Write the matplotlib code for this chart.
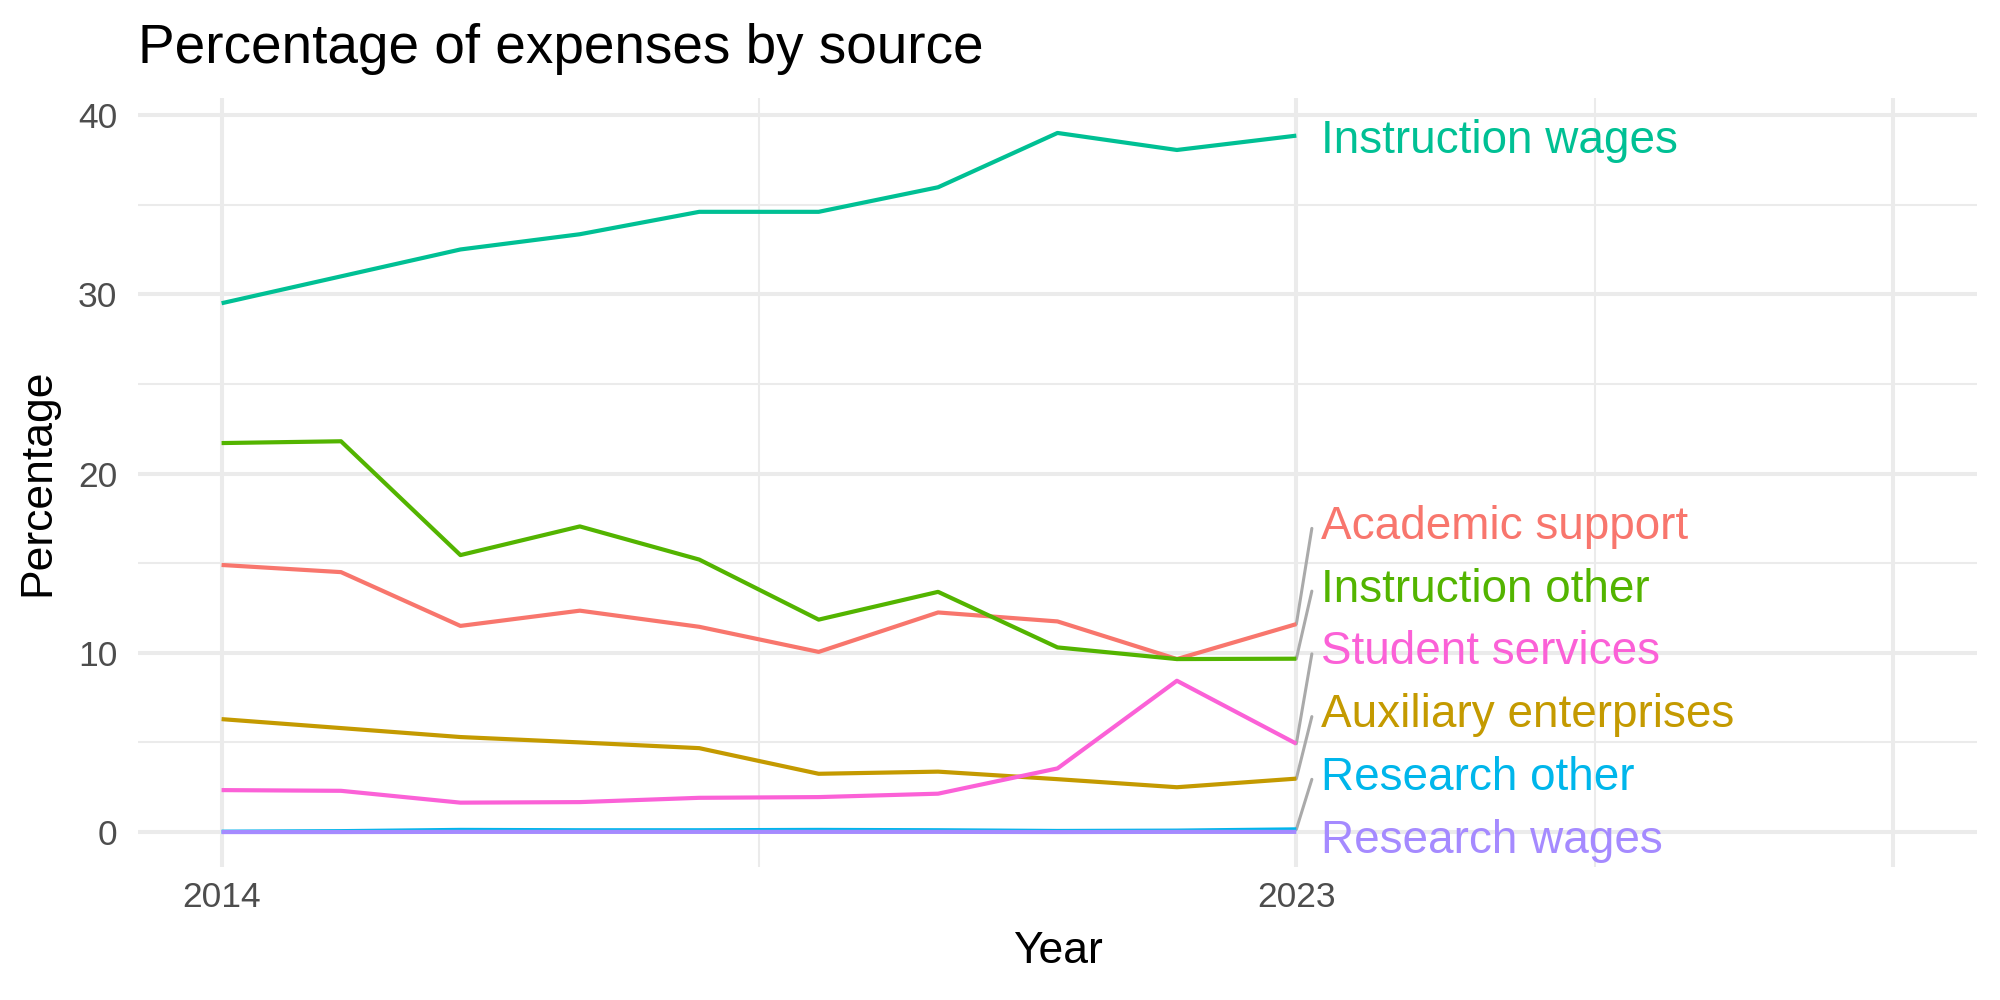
import matplotlib
matplotlib.use("Agg")
import matplotlib.pyplot as plt
from matplotlib.transforms import offset_copy
import numpy as np

plt.rcParams['font.family'] = ['Liberation Sans', 'DejaVu Sans']

# ---------------- data ----------------
years = [2014, 2015, 2016, 2017, 2018, 2019, 2020, 2021, 2022, 2023]

academic_support = [14.9, 14.5, 11.5, 12.35, 11.45, 10.05, 12.25, 11.75, 9.65, 11.6]
auxiliary_enterprises = [6.3, 5.8, 5.3, 5.0, 4.68, 3.25, 3.37, 2.95, 2.5, 2.98]
instruction_other = [21.7, 21.8, 15.45, 17.05, 15.2, 11.85, 13.4, 10.3, 9.65, 9.67]
instruction_wages = [29.5, 31.0, 32.5, 33.35, 34.6, 34.6, 35.97, 39.0, 38.05, 38.85]
research_other = [0.02, 0.05, 0.12, 0.1, 0.1, 0.12, 0.1, 0.06, 0.08, 0.15]
research_wages = [0.0, 0.0, 0.01, 0.01, 0.01, 0.01, 0.01, 0.0, 0.01, 0.01]
student_services = [2.34, 2.3, 1.64, 1.67, 1.91, 1.95, 2.14, 3.55, 8.44, 4.93]

series_names = ["Academic support", "Auxiliary enterprises", "Instruction other",
                "Instruction wages", "Research other", "Research wages",
                "Student services"]
series_values = [academic_support, auxiliary_enterprises, instruction_other,
                 instruction_wages, research_other, research_wages,
                 student_services]

title = "Percentage of expenses by source"
x_label = "Year"
y_label = "Percentage"
x_ticks = [2014, 2023, 2028]
x_tick_labels = ["2014", "2023", ""]
y_ticks = [0, 10, 20, 30, 40]

# ggplot2 hue palette for 7 groups
colors = ["#F8766D", "#C49A00", "#53B400", "#00C094", "#00B6EB", "#A58AFF", "#FB61D7"]

# ---------------- figure ----------------
fig = plt.figure(figsize=(20, 10), dpi=100)
ax = fig.add_axes([0.069, 0.133, 0.9195, 0.769])

ax.set_xlim(2013.3, 2028.7)
ax.set_ylim(-1.95, 40.95)

grid_col = "#EBEBEB"
for yv in y_ticks:
    ax.axhline(yv, color=grid_col, lw=2.9, zorder=0)
for yv in [5, 15, 25, 35]:
    ax.axhline(yv, color=grid_col, lw=1.45, zorder=0)
for xv in x_ticks:
    ax.axvline(xv, color=grid_col, lw=2.9, zorder=0)
for xv in [2018.5, 2025.5]:
    ax.axvline(xv, color=grid_col, lw=1.45, zorder=0)

for name, vals, col in zip(series_names, series_values, colors):
    ax.plot(years, vals, color=col, lw=3.0, solid_capstyle='butt',
            solid_joinstyle='round', zorder=3)

# ---------------- repelled end labels ----------------
last_x = years[-1]
end_vals = [v[-1] for v in series_values]
top_idx = int(np.argmax(end_vals))
others = [i for i in range(len(series_names)) if i != top_idx]
others.sort(key=lambda i: end_vals[i])
label_pos = {top_idx: end_vals[top_idx] - 0.05}
gap = 3.5
for rank, i in enumerate(others):
    label_pos[i] = -0.26 + rank * gap

text_tr = offset_copy(ax.transData, fig=fig, y=-11.5, units='points')
for i, name in enumerate(series_names):
    ly = label_pos[i]
    ax.text(last_x + 0.21, ly, name, color=colors[i], fontsize=33,
            ha='left', va='baseline', transform=text_tr, zorder=4)
    if abs(ly - end_vals[i]) > 0.6:
        ax.plot([last_x, last_x + 0.13], [end_vals[i], ly - 0.3],
                color="#AAAAAA", lw=2.2, zorder=2, solid_capstyle='round')

# ---------------- axes styling ----------------
for s in ax.spines.values():
    s.set_visible(False)
ax.set_xticks(x_ticks)
ax.set_xticklabels(x_tick_labels)
ax.set_yticks(y_ticks)
ax.tick_params(axis='both', length=0, labelsize=25.5, labelcolor="#4D4D4D")
ax.tick_params(axis='x', pad=10)
ax.tick_params(axis='y', pad=15)

ax.set_xlabel(x_label, fontsize=32, labelpad=12)
ax.set_ylabel(y_label, fontsize=32, labelpad=14)

fig.text(0.069, 0.937, title, fontsize=39.5, ha='left', va='baseline')

fig.savefig("out.png", dpi=100, facecolor="white")
